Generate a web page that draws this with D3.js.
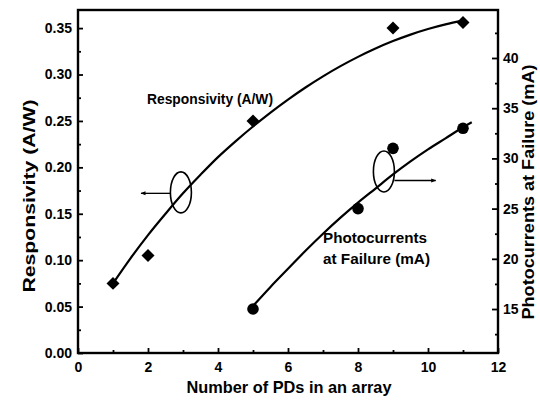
<!DOCTYPE html>
<html><head><meta charset="utf-8">
<script src="https://cdn.jsdelivr.net/npm/d3@7"></script>
<style>
html,body{margin:0;padding:0;background:#fff;}
svg text{font-family:"Liberation Sans",Arial,Helvetica,sans-serif;font-weight:bold;fill:#000;}
</style></head>
<body>
<svg id="c" width="540" height="403"></svg>
<script>
// ---- data ----
const pdCountsResp = [1, 2, 5, 9, 11];
const responsivity = [0.075, 0.105, 0.25, 0.35, 0.356];
const pdCountsCurr = [5, 8, 9, 11];
const failureCurrent = [15, 25, 31, 33];
// fitted curves
const respFitX = [1, 1.5, 2, 2.5, 3, 3.5, 4, 4.5, 5, 5.5, 6, 6.5, 7, 7.5, 8, 8.5, 9, 9.5, 10, 10.5, 11];
const respFitY = [0.075, 0.102, 0.127, 0.150, 0.172, 0.192, 0.211, 0.228, 0.244, 0.259, 0.273, 0.286, 0.298, 0.309, 0.319, 0.328, 0.336, 0.343, 0.349, 0.354, 0.358];
const currFitX = [5, 5.5, 6, 6.5, 7, 7.5, 8, 8.5, 9, 9.5, 10, 10.5, 11, 11.25];
const currFitY = [15.3, 17.2, 19.0, 20.8, 22.5, 24.1, 25.6, 27.0, 28.4, 29.7, 30.9, 32.0, 33.1, 33.6];
const xTicks = [0, 2, 4, 6, 8, 10, 12];
const leftTicks = [0, 0.05, 0.10, 0.15, 0.20, 0.25, 0.30, 0.35];
const rightTicks = [15, 20, 25, 30, 35, 40];
const xTitle = "Number of PDs in an array";
const leftTitle = "Responsivity (A/W)";
const rightTitle = "Photocurrents at Failure (mA)";
const respLabel = "Responsivity (A/W)";
const currLabel = ["Photocurrents", "at Failure (mA)"];

// ---- layout ----
const L = 78, R = 498, T = 10, B = 353;
const svg = d3.select("#c");
const x = d3.scaleLinear().domain([0, 12]).range([L, R]);
const yL = d3.scaleLinear().domain([0, 0.3695]).range([B, T]);
const yR = d3.scaleLinear().domain([10.62, 44.78]).range([B, T]);

// bottom axis
svg.append("g").attr("transform", `translate(0,${B})`)
  .call(d3.axisBottom(x).tickValues(xTicks).tickFormat(d3.format("d")).tickSize(-5).tickPadding(9));
svg.append("g").attr("transform", `translate(0,${B})`)
  .call(d3.axisBottom(x).tickValues(d3.range(1, 12, 2)).tickFormat("").tickSize(-3));
// left axis
svg.append("g").attr("transform", `translate(${L},0)`)
  .call(d3.axisLeft(yL).tickValues(leftTicks).tickFormat(d3.format(".2f")).tickSize(-5).tickPadding(6));
svg.append("g").attr("transform", `translate(${L},0)`)
  .call(d3.axisLeft(yL).tickValues(d3.range(0.025, 0.37, 0.05)).tickFormat("").tickSize(-3));
// right axis
svg.append("g").attr("transform", `translate(${R},0)`)
  .call(d3.axisRight(yR).tickValues(rightTicks).tickFormat(d3.format("d")).tickSize(-6).tickPadding(5));
svg.append("g").attr("transform", `translate(${R},0)`)
  .call(d3.axisRight(yR).tickValues(d3.range(12.5, 44, 5)).tickFormat("").tickSize(-3));

svg.selectAll(".domain").remove();
svg.selectAll(".tick line").attr("stroke", "#000").attr("stroke-width", 1.8);
svg.selectAll(".tick text").attr("font-size", 14).style("font-weight", "bold").attr("fill", "#000")
  .style("font-family", '"Liberation Sans",Arial,sans-serif');

// frame
svg.append("rect").attr("x", L).attr("y", T).attr("width", R - L).attr("height", B - T)
  .attr("fill", "none").attr("stroke", "#000").attr("stroke-width", 2.4);

// curves
const lineL = d3.line().x(d => x(d[0])).y(d => yL(d[1])).curve(d3.curveCatmullRom);
const lineR = d3.line().x(d => x(d[0])).y(d => yR(d[1])).curve(d3.curveCatmullRom);
svg.append("path").datum(d3.zip(respFitX, respFitY)).attr("d", lineL)
  .attr("fill", "none").attr("stroke", "#000").attr("stroke-width", 2.2);
svg.append("path").datum(d3.zip(currFitX, currFitY)).attr("d", lineR)
  .attr("fill", "none").attr("stroke", "#000").attr("stroke-width", 2.2);

// markers
svg.selectAll(".dia").data(d3.zip(pdCountsResp, responsivity)).join("path")
  .attr("d", d3.symbol().type(d3.symbolSquare).size(84))
  .attr("transform", d => `translate(${x(d[0])},${yL(d[1])}) rotate(45)`)
  .attr("fill", "#000");
svg.selectAll(".cir").data(d3.zip(pdCountsCurr, failureCurrent)).join("circle")
  .attr("cx", d => x(d[0])).attr("cy", d => yR(d[1])).attr("r", 5.8).attr("fill", "#000");

// annotations
svg.append("text").attr("x", 147).attr("y", 104).attr("font-size", 13.8)
  .attr("textLength", 126).attr("lengthAdjust", "spacingAndGlyphs").text(respLabel);
svg.append("text").attr("x", 323).attr("y", 243).attr("font-size", 14.5)
  .attr("textLength", 104).attr("lengthAdjust", "spacingAndGlyphs").text(currLabel[0]);
svg.append("text").attr("x", 323).attr("y", 264).attr("font-size", 14.5)
  .attr("textLength", 107).attr("lengthAdjust", "spacingAndGlyphs").text(currLabel[1]);

const defs = svg.append("defs");
defs.append("marker").attr("id", "ah").attr("viewBox", "0 0 10 10").attr("refX", 9).attr("refY", 5)
  .attr("markerWidth", 8).attr("markerHeight", 5).attr("orient", "auto").attr("markerUnits", "userSpaceOnUse")
  .append("path").attr("d", "M0,1 L10,5 L0,9 Z").attr("fill", "#000");

svg.append("ellipse").attr("cx", x(2.94)).attr("cy", yL(0.173)).attr("rx", 10.5).attr("ry", 20.5)
  .attr("fill", "none").attr("stroke", "#000").attr("stroke-width", 1.6);
svg.append("line").attr("x1", x(2.64)).attr("x2", x(1.8)).attr("y1", yL(0.172)).attr("y2", yL(0.172))
  .attr("stroke", "#000").attr("stroke-width", 1.3).attr("marker-end", "url(#ah)");
svg.append("ellipse").attr("cx", x(8.74)).attr("cy", yR(28.7)).attr("rx", 10.5).attr("ry", 20.5)
  .attr("fill", "none").attr("stroke", "#000").attr("stroke-width", 1.6);
svg.append("line").attr("x1", x(9.04)).attr("x2", x(10.22)).attr("y1", yR(27.8)).attr("y2", yR(27.8))
  .attr("stroke", "#000").attr("stroke-width", 1.3).attr("marker-end", "url(#ah)");

// titles
svg.append("text").attr("x", 289).attr("y", 393).attr("text-anchor", "middle").attr("font-size", 16.3)
  .attr("textLength", 205).attr("lengthAdjust", "spacingAndGlyphs").text(xTitle);
svg.append("text").attr("transform", `translate(35,196) rotate(-90)`).attr("text-anchor", "middle").attr("font-size", 16.5)
  .attr("textLength", 193).attr("lengthAdjust", "spacingAndGlyphs").text(leftTitle);
svg.append("text").attr("transform", `translate(534,192) rotate(-90)`).attr("text-anchor", "middle").attr("font-size", 16.5)
  .attr("textLength", 255).attr("lengthAdjust", "spacingAndGlyphs").text(rightTitle);
</script>
</body></html>
